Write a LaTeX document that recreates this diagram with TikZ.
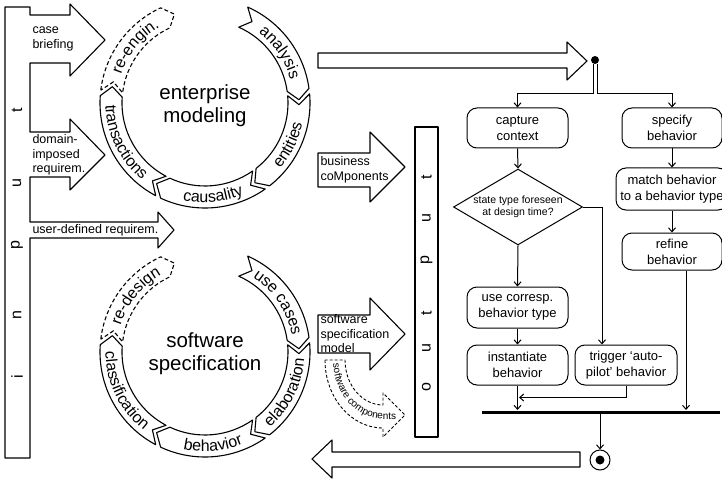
\documentclass[tikz,border=0pt]{standalone}
\usepackage{fontspec}
\setmainfont{Liberation Sans}
\usetikzlibrary{arrows.meta, calc, shapes.geometric, decorations.text}
\newcommand{\arcfont}{\fontsize{16}{16}\selectfont}

\begin{document}
\begin{tikzpicture}[
    x=1pt, y=1pt,
    > = {Straight Barb[length=4pt, width=7pt]},
    line width=1pt,
    band/.style={draw, line width=1.1pt, line join=round},
    act/.style={draw, rounded corners=10pt, align=center, inner sep=2pt,
        font=\fontsize{13}{16}\selectfont},
    flow/.style={->, line width=1pt},
    lbl/.style={anchor=west, align=left, inner sep=0pt,
        font=\fontsize{12.5}{14.5}\selectfont},
    letter/.style={rotate=90, inner sep=0pt, font=\fontsize{16}{16}\selectfont}
]
    \useasboundingbox (0,0) rectangle (722,480);

    % Input bar with its three arrows
    \draw[band] (5,473) -- (30,473) -- (30,465) -- (70,465) -- (70,476) -- (105,440)
        -- (70,404) -- (70,417) -- (30,417) -- (30,348) -- (70,348) -- (70,361)
        -- (105,325) -- (70,290) -- (70,303) -- (30,303) -- (30,258) -- (158,258)
        -- (158,268) -- (174,250) -- (158,232) -- (158,242) -- (30,242) -- (30,22)
        -- (5,22) -- cycle;
    \node[lbl] (brief) at (32,441) {case\\briefing};
    \node[lbl] (domain) at (32,325) {domain-\\imposed\\requirem.};
    \node[lbl] (user) at (32,250) {user-defined requirem.};
    \foreach \c/\y [count=\i] in {i/103, n/165, p/235, u/297, t/370}
        \node[letter] (in\i) at (17,\y) {\c};

    % Enterprise modeling cycle
    \begin{scope}[shift={(205,377)}]
        \foreach \s/\e in {66/8, 5/-52, -55/-115, -118/-184}
            \draw[band] (\s:105) arc (\s:\e:105) -- (\e-6:94) -- (\e:83)
                arc (\e:\s:83) -- (\s-6:94) -- cycle;
        \draw[band, dash pattern=on 4pt off 2.5pt] (-187:105) arc (-187:-245:105)
            -- (-251:94) -- (-245:83) arc (-245:-187:83) -- (-193:94) -- cycle;
        \node[align=center, font=\fontsize{20.5}{23}\selectfont] (em) at (0,-3) {enterprise\\modeling};
        \path[decorate, decoration={text along path, text align=center,
            text={|\arcfont|analysis}}] (63:88.5) arc (63:5:88.5);
        \path[decorate, decoration={text along path, text align=center,
            text={|\arcfont|entities}}] (-55:99.5) arc (-55:2:99.5);
        \path[decorate, decoration={text along path, text align=center,
            text={|\arcfont|causality}}] (-118:99.5) arc (-118:-52:99.5);
        \path[decorate, decoration={text along path, text align=center,
            text={|\arcfont|transactions}}] (-187:99.5) arc (-187:-121:99.5);
        \path[decorate, decoration={text along path, text align=center,
            text={|\arcfont|re-engin.}}] (-190:88.5) arc (-190:-248:88.5);
    \end{scope}

    % Software specification cycle
    \begin{scope}[shift={(205,128)}]
        \foreach \s/\e in {66/8, 5/-52, -55/-115, -118/-184}
            \draw[band] (\s:105) arc (\s:\e:105) -- (\e-6:94) -- (\e:83)
                arc (\e:\s:83) -- (\s-6:94) -- cycle;
        \draw[band, dash pattern=on 4pt off 2.5pt] (-187:105) arc (-187:-245:105)
            -- (-251:94) -- (-245:83) arc (-245:-187:83) -- (-193:94) -- cycle;
        \node[align=center, font=\fontsize{20.5}{23}\selectfont] (ss) at (0,-2) {software\\specification};
        \path[decorate, decoration={text along path, text align=center,
            text={|\arcfont|use cases}}] (63:88.5) arc (63:5:88.5);
        \path[decorate, decoration={text along path, text align=center,
            text={|\arcfont|elaboration}}] (-55:99.5) arc (-55:2:99.5);
        \path[decorate, decoration={text along path, text align=center,
            text={|\arcfont|behavior}}] (-118:99.5) arc (-118:-52:99.5);
        \path[decorate, decoration={text along path, text align=center,
            text={|\arcfont|classification}}] (-187:99.5) arc (-187:-121:99.5);
        \path[decorate, decoration={text along path, text align=center,
            text={|\arcfont|re-design}}] (-190:88.5) arc (-190:-248:88.5);
    \end{scope}

    % Hollow arrows between the parts
    \draw[band] (318,427) -- (567,427) -- (567,438) -- (587,419) -- (567,400)
        -- (567,412) -- (318,412) -- cycle;
    \draw[band] (580,28) -- (332,28) -- (332,40) -- (312,21) -- (332,2)
        -- (332,13) -- (580,13) -- cycle;
    \draw[band] (318,327) -- (370,327) -- (370,348) -- (405,313) -- (370,278)
        -- (370,293) -- (318,293) -- cycle;
    \node[lbl] (busc) at (320,310) {business\\coMponents};
    \draw[band] (318,165) -- (370,165) -- (370,182) -- (405,146) -- (370,110)
        -- (370,127) -- (318,127) -- cycle;
    \node[lbl] (specm) at (320,146) {software\\specification\\model};

    % Dashed curved arrow
    \draw[band, dash pattern=on 3pt off 2pt, line width=0.9pt] (325,120)
        arc[start angle=180, end angle=270, x radius=58, y radius=68] -- (383,43)
        -- (405,65) -- (383,87) -- (383,75)
        arc[start angle=270, end angle=180, x radius=38, y radius=45] -- cycle;
    \path[decorate, decoration={text along path, text align=center,
        text={|\fontsize{10}{10}\selectfont|software components}}] (333,120)
        arc[start angle=180, end angle=270, x radius=50, y radius=59] -- ++(17,0);

    % Output bar
    \draw[band] (415,43) rectangle (438,353);
    \foreach \c/\y [count=\i] in {o/93, u/132, t/167, p/220, u/262, t/303}
        \node[letter] (out\i) at (426.5,\y) {\c};

    % Activity flow
    \node[circle, fill, inner sep=0pt, minimum size=8pt] (start) at (595,420) {};
    \node[act, minimum width=101pt, minimum height=40pt] (capture) at (517.5,352) {capture\\context};
    \node[act, minimum width=100pt, minimum height=40pt] (specify) at (672,352) {specify\\behavior};
    \node[act, minimum width=112pt, minimum height=42pt] (match) at (672,291) {match behavior\\to a behavior type};
    \node[act, minimum width=100pt, minimum height=37pt] (refine) at (672,228.5) {refine\\behavior};
    \node[draw, diamond, aspect=1.7, inner sep=0.5pt, align=center,
        font=\fontsize{10.5}{12}\selectfont] (foreseen) at (518,273) {state type foreseen\\at design time?};
    \node[act, minimum width=101pt, minimum height=41pt] (usetype) at (517.5,172.5) {use corresp.\\behavior type};
    \node[act, minimum width=101pt, minimum height=40pt] (inst) at (517.5,115) {instantiate\\behavior};
    \node[act, minimum width=102pt, minimum height=40pt] (trigger) at (626,115) {trigger ‘auto-\\pilot’ behavior};
    \node[fill, inner sep=0pt, minimum width=238pt, minimum height=3pt] (join) at (601,68) {};
    \node[circle, draw, minimum size=20pt, inner sep=0pt] (final) at (600,20) {};
    \fill (final) circle (4.5);

    \coordinate (trigin) at ([xshift=-24pt]trigger.north);
    \coordinate (merge) at ([yshift=-12pt]inst.south);
    \coordinate (refout) at ([xshift=14pt]refine.south);

    \draw[flow] ([xshift=-2pt]start.south) -- ++(0,-29) -| (capture.north);
    \draw[flow] ([xshift=2pt]start.south) -- ++(0,-29) -| (specify.north);
    \draw[flow] (capture.south) -- (foreseen.north);
    \draw[flow] (foreseen.south) -- (usetype.north);
    \draw[flow] (usetype.south) -- (inst.north);
    \draw[flow] (foreseen.east) -| (trigin);
    \draw[flow] (inst.south) -- (inst.south |- join.north);
    \draw[flow] (trigger.south) |- ([xshift=1.5pt]merge);
    \draw[flow] (specify.south) -- (match.north);
    \draw[flow] (match.south) -- (refine.north);
    \draw[flow] (refout) -- (refout |- join.north);
    \draw[flow] (join.south -| final.north) -- (final.north);
\end{tikzpicture}
\end{document}
